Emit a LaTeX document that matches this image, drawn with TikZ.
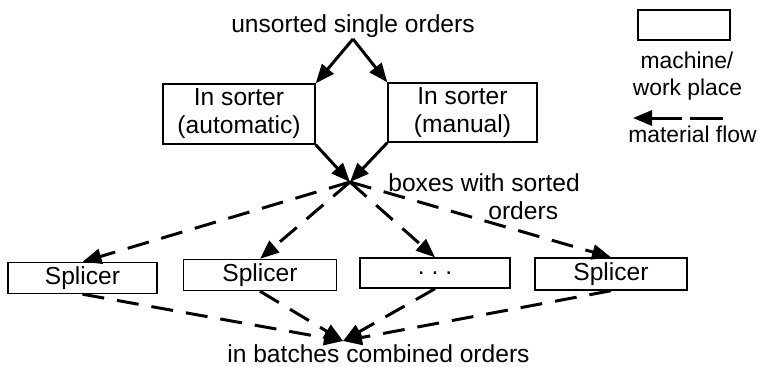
\documentclass[tikz,border=0pt]{standalone}
\usepackage{fontspec}
\setmainfont{Liberation Sans}
\usetikzlibrary{arrows.meta, positioning}

\newcommand{\mainfs}{\fontsize{14pt}{16pt}\selectfont}
\newcommand{\legfs}{\fontsize{13pt}{15pt}\selectfont}

\tikzset{
  machine/.style={draw, line width=0.8pt, inner sep=0pt, align=center, font=\mainfs},
  flow/.style={line width=1.7pt, -{Triangle[length=0.38cm,width=0.3cm]}},
  flowdash/.style={flow, dash pattern=on 0.44cm off 0.26cm},
  lbl/.style={inner sep=0pt, anchor=base, font=\mainfs}
}

\begin{document}
\begin{tikzpicture}
\useasboundingbox (0,0) rectangle (15.16,-7.32);

% In sorters
\node[machine, minimum width=3.04cm, minimum height=1.2cm] (autoS) at (4.78,-2.28) {In sorter\\(automatic)};
\node[machine, minimum width=2.98cm, minimum height=1.18cm] (manS) at (9.25,-2.25) {In sorter\\(manual)};

% Splicers
\node[machine, minimum width=2.98cm, minimum height=0.62cm] (spl1) at (1.65,-5.56) {Splicer};
\node[machine, minimum width=3.06cm, minimum height=0.62cm] (spl2) at (5.2,-5.5) {Splicer};
\node[machine, minimum width=3.0cm, minimum height=0.6cm] (splD) at (8.7,-5.46) {.\hspace{0.14cm}.\hspace{0.14cm}.};
\node[machine, minimum width=3.04cm, minimum height=0.64cm] (spl4) at (12.22,-5.48) {Splicer};

% Meeting points of the flow
\coordinate (apex) at (7.06,-0.78);
\coordinate (hub) at (7.0,-3.64);
\coordinate (sink) at (6.86,-6.82);

% Material flow
\draw[flow] (apex) -- (autoS.north east);
\draw[flow] (apex) -- (manS.north west);
\draw[flow] (autoS.south east) -- (hub);
\draw[flow] (manS.south west) -- (hub);
\draw[flowdash] (hub) -- (spl1.north);
\draw[flowdash] (hub) -- (spl2.north);
\draw[flowdash] (hub) -- (splD.north);
\draw[flowdash] (hub) -- (spl4.north);
\draw[flowdash] (spl1.south) -- (sink);
\draw[flowdash] (spl2.south) -- (sink);
\draw[flowdash] (splD.south) -- (sink);
\draw[flowdash] (spl4.south) -- (sink);

% Labels
\node[lbl] (unsorted) at (7.06,-0.64) {unsorted single orders};
\node[lbl, anchor=base west] (sortedA) at (7.76,-3.82) {boxes with sorted};
\node[lbl, anchor=base west] (sortedB) at (9.76,-4.38) {orders};
\node[lbl, anchor=base west] (batches) at (4.54,-7.24) {in batches combined orders};

% Legend
\node[machine, minimum width=1.84cm, minimum height=0.6cm] (legBox) at (13.68,-0.5) {};
\node[lbl, font=\legfs] (legMachine) at (13.74,-1.36) {machine/};
\node[lbl, font=\legfs] (legWork) at (13.75,-1.9) {work place};
\coordinate (flowR) at (14.46,-2.36);
\coordinate (flowL) at (12.66,-2.36);
\draw[flow, dash pattern=on 0.66cm off 0.16cm] (flowR) -- (flowL);
\node[lbl, font=\legfs] (legFlow) at (13.85,-2.84) {material flow};
\end{tikzpicture}
\end{document}
